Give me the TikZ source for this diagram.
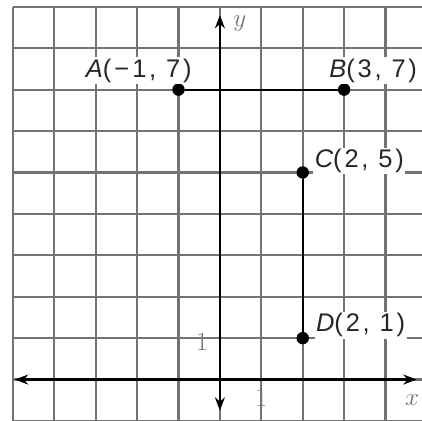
\documentclass[tikz,border=0pt]{standalone}
\usepackage{fontspec}
\usetikzlibrary{arrows.meta}
\newfontfamily\ptfont{Liberation Sans}[LetterSpace=11]
\begin{document}
\begin{tikzpicture}[
  dot/.style={circle,fill=black,inner sep=0pt,minimum size=0.3cm},
  ptlabel/.style={fill=white,inner sep=1pt,text=black!85,
    font=\ptfont\fontsize{17.5}{19}\selectfont},
  ticklabel/.style={text=black!55,font=\fontsize{18}{20}\selectfont},
  axis/.style={line width=1.7pt,
    {Stealth[length=0.32cm,width=0.24cm]}-{Stealth[length=0.32cm,width=0.24cm]}}]
 \useasboundingbox (-5.31,-0.98) rectangle (4.88,9.165);
 \begin{scope}
  \clip (-5.31,-0.98) rectangle (4.88,9.165);
  \draw [step=1cm,black!55,line width=1.5pt](-5,-1) grid (4.88,9);
 \end{scope}
 % axes
 \coordinate (xl) at (-4.95,0);
 \coordinate (xr) at (4.75,0);
 \coordinate (yb) at (0,-0.75);
 \coordinate (yt) at (0,8.8);
 \draw[axis] (xl) -- (xr);
 \draw[axis] (yb) -- (yt);
 \node[ticklabel] (xlab) at (4.64,-0.5) {$x$};
 \node[ticklabel] (ylab) at (0.48,8.6) {$y$};
 \node[ticklabel] (xone) at (1.0,-0.45) {1};
 \node[ticklabel] (yone) at (-0.43,0.91) {1};
 % points
 \node[dot] (A) at (-1,7) {};
 \node[dot] (B) at (3,7) {};
 \node[dot] (C) at (2,5) {};
 \node[dot] (D) at (2,1) {};
 \draw[line width=1.4pt] (A) -- (B);
 \draw[line width=1.4pt] (C) -- (D);
 \node[ptlabel,anchor=base east] (Alab) at (-0.64,7.3) {{\itshape A}(\kern0.12em−\kern0.12em1, 7)};
 \node[ptlabel,anchor=base west] (Blab) at (2.6,7.3) {{\itshape B}(3, 7)};
 \node[ptlabel,anchor=base west] (Clab) at (2.25,5.12) {{\itshape C}(2, 5)};
 \node[ptlabel,anchor=base west] (Dlab) at (2.28,1.15) {{\itshape D}(2, 1)};
\end{tikzpicture}
\end{document}
